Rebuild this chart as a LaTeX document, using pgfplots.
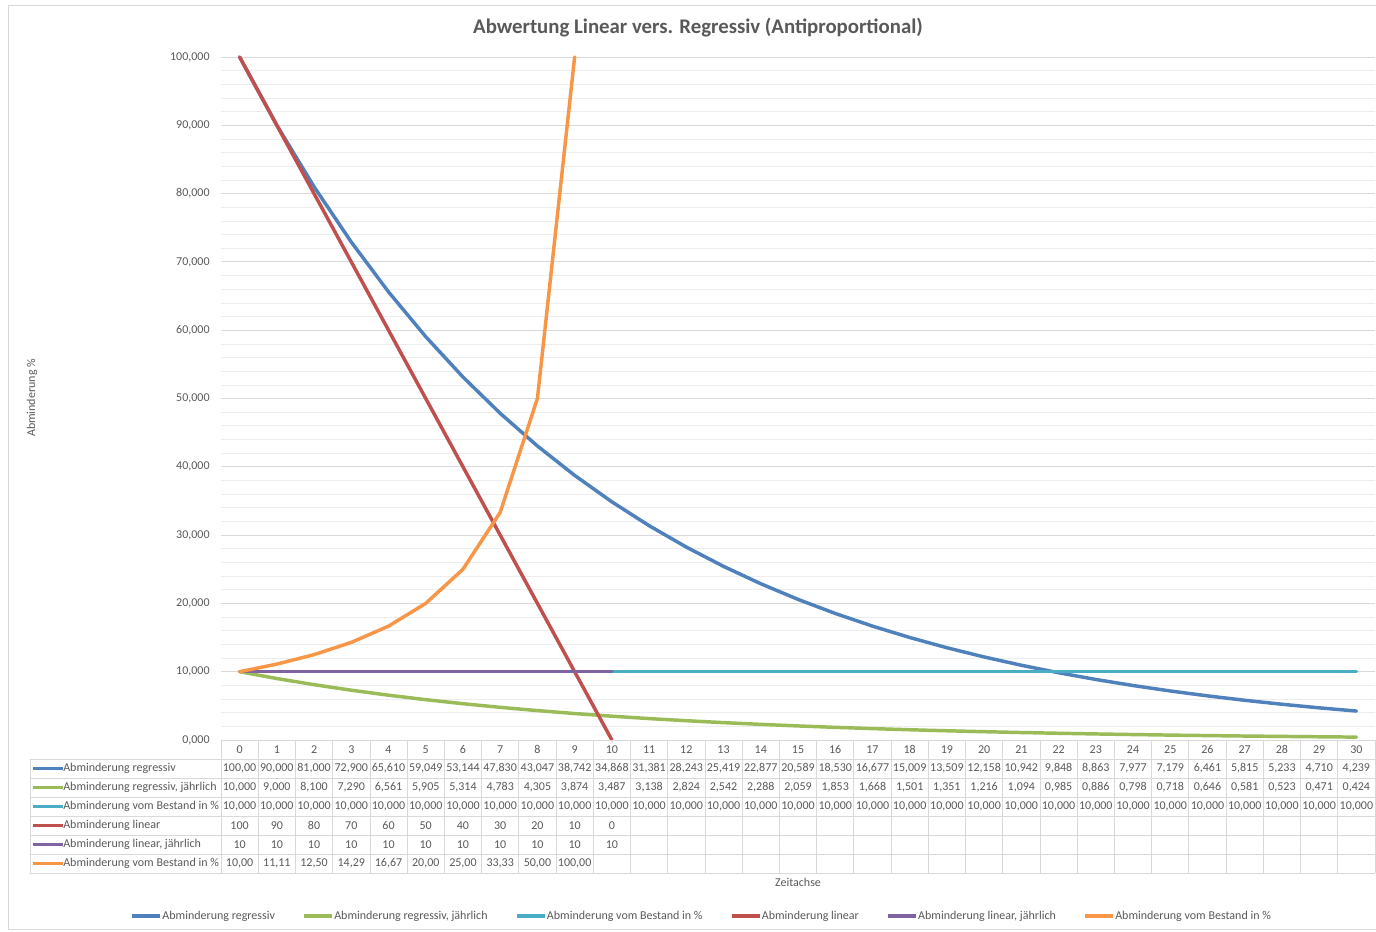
\documentclass[border=0pt]{standalone}
\usepackage{pgfplots}
\pgfplotsset{compat=1.18}
\usepackage{pgfplotstable}
\usepackage{fontspec}
\setmainfont{Carlito}
\definecolor{cReg}{HTML}{4F81BD}
\definecolor{cRegJ}{HTML}{9BBB59}
\definecolor{cBest}{HTML}{4BACC6}
\definecolor{cLin}{HTML}{C0504D}
\definecolor{cLinJ}{HTML}{8064A2}
\definecolor{cBestP}{HTML}{F79646}
\definecolor{txt}{HTML}{595959}
\definecolor{gridc}{HTML}{D9D9D9}
\definecolor{gridm}{HTML}{EDEDED}

\pgfplotstableread{
x reg regj best
0 100 10 10
1 90 9 10
2 81 8.1 10
3 72.9 7.29 10
4 65.61 6.561 10
5 59.049 5.905 10
6 53.144 5.314 10
7 47.83 4.783 10
8 43.047 4.305 10
9 38.742 3.874 10
10 34.868 3.487 10
11 31.381 3.138 10
12 28.243 2.824 10
13 25.419 2.542 10
14 22.877 2.288 10
15 20.589 2.059 10
16 18.53 1.853 10
17 16.677 1.668 10
18 15.009 1.501 10
19 13.509 1.351 10
20 12.158 1.216 10
21 10.942 1.094 10
22 9.848 0.985 10
23 8.863 0.886 10
24 7.977 0.798 10
25 7.179 0.718 10
26 6.461 0.646 10
27 5.815 0.581 10
28 5.233 0.523 10
29 4.71 0.471 10
30 4.239 0.424 10
}\dataA

\pgfplotstableread{
x lin linj bestp
0 100 10 10
1 90 10 11.11
2 80 10 12.5
3 70 10 14.29
4 60 10 16.67
5 50 10 20
6 40 10 25
7 30 10 33.33
8 20 10 50
9 10 10 100
10 0 10 nan
}\dataB

\newcommand\tabfont{\fontsize{9}{10}\selectfont\color{txt}}
\newcommand\tabrow[4]{%
  \draw[#2, line width=2.2pt] ([xshift=-141pt, yshift={-(#1+0.5)*14.25pt}]ax.south west) -- ++(22.5pt,0);
  \node[anchor=west, inner sep=0pt, font=\tabfont] at ([xshift=-118.5pt, yshift={-(#1+0.5)*14.25pt}]ax.south west) {#3};
  \foreach \v [count=\i from 0] in {#4} {
    \node[inner sep=0pt, font=\tabfont] at ([xshift={(\i+0.5)*27.919pt}, yshift={-(#1+0.5)*14.25pt}]ax.south west) {\v};
  }%
}

\begin{document}
\begin{tikzpicture}
\begin{axis}[
  name=ax,
  scale only axis,
  width=865.5pt, height=512.25pt,
  xmin=-0.5, xmax=30.5, ymin=0, ymax=100,
  clip=false,
  axis line style={draw=none},
  xtick=\empty,
  ytick={0,10,...,100},
  minor y tick num=4,
  ymajorgrids, yminorgrids,
  major grid style={gridc, line width=0.6pt},
  minor grid style={gridm, line width=0.5pt},
  tick style={draw=none},
  major tick length=0pt, minor tick length=0pt,
  yticklabel style={font=\fontsize{9}{10}\selectfont, text=txt, xshift=-5pt},
  /pgf/number format/assume math mode=true,
  yticklabel={\pgfmathprintnumber[fixed, fixed zerofill, precision=3, use comma, 1000 sep={}]{\tick}},
  legend columns=6,
  legend style={at={(0.416,-0.2577)}, anchor=center, draw=none, fill=none,
    font=\fontsize{9}{10}\selectfont, text=txt,
    /tikz/every even column/.append style={column sep=20.5pt},
    nodes={inner sep=0.3pt},
    inner sep=0pt, cells={anchor=west}},
  legend image code/.code={\draw[#1] (0pt,0pt) -- (21pt,0pt);},
  legend image post style={line width=2.4pt, line cap=butt},
  every axis plot/.append style={line width=2.6pt, line join=round, line cap=round},
]
\addplot[cReg] table[x=x, y=reg] {\dataA};
\addlegendentry{Abminderung regressiv}
\addplot[cRegJ] table[x=x, y=regj] {\dataA};
\addlegendentry{Abminderung regressiv, jährlich}
\addplot[cBest] table[x=x, y=best] {\dataA};
\addlegendentry{Abminderung vom Bestand in \%}
\addplot[cLin] table[x=x, y=lin] {\dataB};
\addlegendentry{Abminderung linear}
\addplot[cLinJ] table[x=x, y=linj] {\dataB};
\addlegendentry{Abminderung linear, jährlich}
\addplot[cBestP] table[x=x, y=bestp] {\dataB};
\addlegendentry{Abminderung vom Bestand in \%}
\end{axis}

% bounding box and chart border
\useasboundingbox ([xshift=-165.75pt, yshift=-143.25pt]ax.south west) rectangle ([xshift=866.25pt, yshift=555pt]ax.south west);
\draw[gridc, line width=0.6pt] ([xshift=880pt, yshift=551.25pt]ax.south west) -- ([xshift=-159.75pt, yshift=551.25pt]ax.south west) -- ([xshift=-159.75pt, yshift=-141.75pt]ax.south west) -- ([xshift=880pt, yshift=-141.75pt]ax.south west);

% title
\node[font=\fontsize{15.6}{18}\selectfont\bfseries, text=txt] at ([xshift=357.75pt, yshift=534pt]ax.south west) {Abwertung Linear vers. Regressiv (Antiproportional)};
% y label
\node[rotate=90, font=\fontsize{9}{10}\selectfont, text=txt] at ([xshift=-141.75pt, yshift=256.5pt]ax.south west) {Abminderung \%};
% x label
\node[font=\fontsize{9}{10}\selectfont, text=txt] at ([xshift=432.75pt, yshift=-106.5pt]ax.south west) {Zeitachse};

% table grid
\draw[gridc, line width=0.6pt] (ax.south west) -- ([xshift=865.5pt]ax.south west);
\foreach \k in {1,...,7} {
  \draw[gridc, line width=0.6pt] ([xshift=-143.25pt, yshift={-\k*14.25pt}]ax.south west) -- ([xshift=865.5pt, yshift={-\k*14.25pt}]ax.south west);
}
\foreach \i in {0,...,31} {
  \draw[gridc, line width=0.6pt] ([xshift={\i*27.919pt}]ax.south west) -- ([xshift={\i*27.919pt}, yshift=-99.75pt]ax.south west);
}
\draw[gridc, line width=0.6pt] ([xshift=-143.25pt, yshift=-14.25pt]ax.south west) -- ([xshift=-143.25pt, yshift=-99.75pt]ax.south west);

% header
\foreach \i in {0,...,30} {
  \node[inner sep=0pt, font=\tabfont] at ([xshift={(\i+0.5)*27.919pt}, yshift=-7.125pt]ax.south west) {\i};
}

\tabrow{1}{cReg}{Abminderung regressiv}{{100,00},{90,000},{81,000},{72,900},{65,610},{59,049},{53,144},{47,830},{43,047},{38,742},{34,868},{31,381},{28,243},{25,419},{22,877},{20,589},{18,530},{16,677},{15,009},{13,509},{12,158},{10,942},{9,848},{8,863},{7,977},{7,179},{6,461},{5,815},{5,233},{4,710},{4,239}}
\tabrow{2}{cRegJ}{Abminderung regressiv, jährlich}{{10,000},{9,000},{8,100},{7,290},{6,561},{5,905},{5,314},{4,783},{4,305},{3,874},{3,487},{3,138},{2,824},{2,542},{2,288},{2,059},{1,853},{1,668},{1,501},{1,351},{1,216},{1,094},{0,985},{0,886},{0,798},{0,718},{0,646},{0,581},{0,523},{0,471},{0,424}}
\tabrow{3}{cBest}{Abminderung vom Bestand in \%}{{10,000},{10,000},{10,000},{10,000},{10,000},{10,000},{10,000},{10,000},{10,000},{10,000},{10,000},{10,000},{10,000},{10,000},{10,000},{10,000},{10,000},{10,000},{10,000},{10,000},{10,000},{10,000},{10,000},{10,000},{10,000},{10,000},{10,000},{10,000},{10,000},{10,000},{10,000}}
\tabrow{4}{cLin}{Abminderung linear}{100,90,80,70,60,50,40,30,20,10,0}
\tabrow{5}{cLinJ}{Abminderung linear, jährlich}{10,10,10,10,10,10,10,10,10,10,10}
\tabrow{6}{cBestP}{Abminderung vom Bestand in \%}{{10,00},{11,11},{12,50},{14,29},{16,67},{20,00},{25,00},{33,33},{50,00},{100,00}}
\end{tikzpicture}
\end{document}
